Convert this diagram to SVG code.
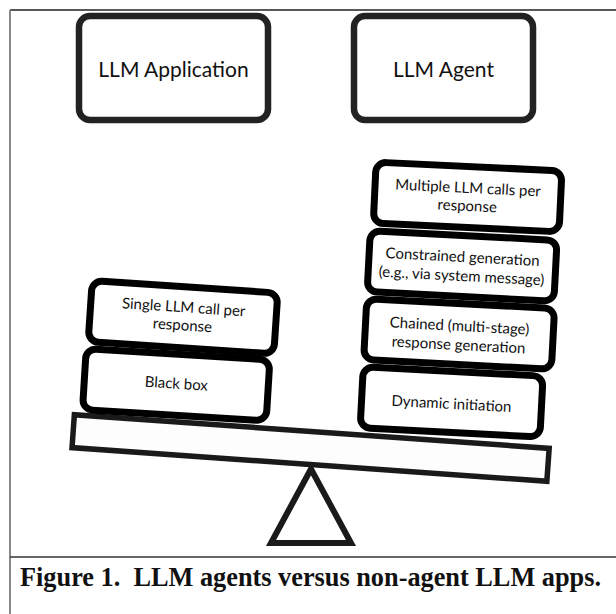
<svg xmlns="http://www.w3.org/2000/svg" width="616" height="614" viewBox="0 0 616 614">
<style>
.top{fill:#fff;stroke:#222;stroke-width:6.5}
.blk{fill:#fff;stroke:#000;stroke-width:7}
.t{font-family:Lato,"Liberation Sans",sans-serif;fill:#111;text-anchor:middle}
.big{font-size:21px}
.sm{font-size:15px}
.cap{font-family:"Liberation Serif","Times New Roman",serif;font-weight:bold;font-size:26.3px;fill:#111}
</style>
<rect x="0" y="0" width="616" height="614" fill="#fff"/>
<g id="frame">
<line x1="10" y1="10" x2="616" y2="10" stroke="#222" stroke-width="1.5"/>
<line x1="10" y1="10" x2="10" y2="614" stroke="#888" stroke-width="2"/>
<line x1="10" y1="557" x2="616" y2="557" stroke="#333" stroke-width="1.5"/>
</g>
<g id="llm-application">
<rect class="top" x="79" y="16" width="189" height="104" rx="11"/>
<text class="t big" x="173.5" y="77">LLM Application</text>
</g>
<g id="llm-agent">
<rect class="top" x="354" y="16" width="179" height="104" rx="11"/>
<text class="t big" x="443.5" y="77">LLM Agent</text>
</g>
<g id="seesaw">
<polygon points="311,469 271,543 351,543" fill="#fff" stroke="#1a1a1a" stroke-width="6"/>
<g transform="translate(310.6,448) rotate(4.05)">
<rect x="-238" y="-16.5" width="476" height="33" fill="#fdfdfd" stroke="#1a1a1a" stroke-width="5.5"/>
</g>
</g>
<g id="connectors"></g>
<g id="black-box" transform="translate(176.2,384.7) rotate(3.5)">
<rect class="blk" x="-92" y="-30.5" width="184" height="61" rx="10"/>
<text class="t sm" x="0" y="4">Black box</text>
</g>
<g id="single-llm-call" transform="translate(183,317.3) rotate(3.8)">
<rect class="blk" x="-93" y="-30.5" width="186" height="61" rx="10"/>
<text class="t sm" x="0" y="-5">Single LLM call per</text>
<text class="t sm" x="0" y="13">response</text>
</g>
<g id="dynamic-initiation" transform="translate(451.6,401.9) rotate(3)">
<rect class="blk" x="-90" y="-30.5" width="180" height="61" rx="10"/>
<text class="t sm" x="0" y="7">Dynamic initiation</text>
</g>
<g id="chained-generation" transform="translate(459.1,334) rotate(3)">
<rect class="blk" x="-94" y="-30.5" width="188" height="61" rx="10"/>
<text class="t sm" x="0" y="-3">Chained (multi-stage)</text>
<text class="t sm" x="0" y="16">response generation</text>
</g>
<g id="constrained-generation" transform="translate(462.1,266) rotate(3)">
<rect class="blk" x="-93.5" y="-30.5" width="187" height="61" rx="10"/>
<text class="t sm" x="0" y="-4">Constrained generation</text>
<text class="t sm" x="0" y="15">(e.g., via system message)</text>
</g>
<g id="multiple-llm-calls" transform="translate(467.6,197) rotate(2.7)">
<rect class="blk" x="-93" y="-30.5" width="186" height="61" rx="10"/>
<text class="t sm" x="0" y="-4">Multiple LLM calls per</text>
<text class="t sm" x="0" y="14">response</text>
</g>
<text class="cap" x="20" y="586" xml:space="preserve">Figure 1.  LLM agents versus non-agent LLM apps.</text>
</svg>
